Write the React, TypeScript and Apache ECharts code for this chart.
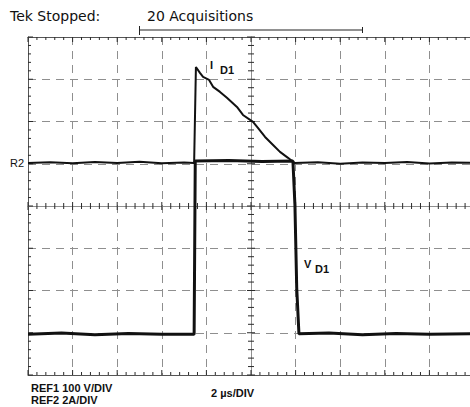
import { useEffect, useRef } from "react";
import * as echarts from "echarts";

// Screen scaling (oscilloscope settings)
const US_PER_DIV = 2;
const V_PER_DIV = 100;
const A_PER_DIV = 2;
const H_DIVS = 10;
const V_DIVS = 8;
const SUB_DIVS = 5;
// Ground reference of each channel, in divisions above screen centre
const V_REF_DIV = 1.065;
const I_REF_DIV = 1.02;

// REF1: diode voltage V_D1 (µs, V)
const voltageTime = [0, 1.5, 3, 4.5, 6, 7.45, 7.5, 9, 10.5, 11.88, 11.97, 12.05, 12.15, 13.5, 15, 16.5, 18, 20];
const voltageVolts = [-410, -407, -411, -408, -410, -410, 0, 1, -1, 0, -104, -300, -409, -407, -411, -408, -410, -409];

// REF2: diode current I_D1 (µs, A)
const currentTime = [
  0, 1, 2, 3, 4, 5, 6, 7, 7.45, 7.53, 7.71, 7.85, 8.12, 8.3, 8.61, 8.92, 9.37, 9.64, 10.09, 10.31, 10.63,
  10.99, 11.3, 11.66, 11.84, 11.95, 13, 14, 15, 16, 17, 18, 19, 20,
];
const currentAmps = [
  0, 0.03, -0.02, 0.04, 0, 0.05, -0.02, 0.02, 0, 4.54, 4.26, 4.07, 3.93, 3.6, 3.36, 3.08, 2.65, 2.27, 1.94,
  1.66, 1.23, 0.85, 0.52, 0.24, 0.09, 0, 0.03, -0.04, 0.02, 0, 0.04, -0.03, 0.02, 0,
];

// Record window bracket above the screen (µs)
const recordWindow = [5, 15];

const TRACE = "#111111";
const GRID = "#8f8f8f";
const BORDER = "#555555";
const TICK = "#2a2a2a";

const pair = (xs: number[], ys: number[]) => xs.map((x, i) => [x, ys[i]]);

// Graticule rulers: minor marks every 1/5 division along the edges and the centre cross
type Side = "up" | "down" | "right" | "both-h" | "both-v";
function ruler(horizontal: boolean, at: number, side: Side) {
  const half = (horizontal ? H_DIVS : V_DIVS) / 2;
  const items: any[] = [];
  for (let i = -half * SUB_DIVS; i <= half * SUB_DIVS; i++) {
    const pos = i / SUB_DIVS;
    const len = i % SUB_DIVS === 0 ? 5 : 3;
    const value = horizontal ? [pos, at] : [at, pos];
    let symbolSize: number[];
    let symbolOffset: number[];
    if (side === "up") { symbolSize = [1, len]; symbolOffset = [0, -len / 2]; }
    else if (side === "down") { symbolSize = [1, len]; symbolOffset = [0, len / 2]; }
    else if (side === "right") { symbolSize = [len, 1]; symbolOffset = [len / 2, 0]; }
    else if (side === "both-h") { symbolSize = [1, len + 3]; symbolOffset = [0, 0]; }
    else { symbolSize = [len + 3, 1]; symbolOffset = [0, 0]; }
    items.push({ value, symbolSize, symbolOffset });
  }
  return {
    type: "scatter",
    xAxisIndex: 1,
    yAxisIndex: 0,
    symbol: "rect",
    data: items,
    itemStyle: { color: TICK, opacity: 1 },
    silent: true,
    clip: false,
    z: 1,
  };
}

export default function App() {
  const ref = useRef<HTMLDivElement>(null);

  useEffect(() => {
    if (!ref.current) return;
    const chart = echarts.init(ref.current, null, { renderer: "svg" });

    const divAxis = (extra: any) => ({
      type: "value",
      min: -H_DIVS / 2,
      max: H_DIVS / 2,
      interval: 1,
      axisLabel: { show: false },
      splitLine: { show: false },
      axisLine: { show: true, onZero: false, lineStyle: { color: BORDER, width: 1 } },
      axisTick: { show: false },
      minorTick: { show: false },
      ...extra,
    });
    const divAxisY = (extra: any) => divAxis({ min: -V_DIVS / 2, max: V_DIVS / 2, ...extra });
    const dashed = { show: true, lineStyle: { color: GRID, width: 1, type: [8, 6] } };
    const centreLine = { color: GRID, width: 1 };

    chart.setOption({
      animation: false,
      backgroundColor: "#ffffff",
      grid: { left: 28, right: -4, top: 37, bottom: 32, outerBoundsMode: "none", containLabel: false },
      xAxis: [
        { type: "value", min: 0, max: H_DIVS * US_PER_DIV, show: false },
        divAxis({ position: "bottom", splitLine: dashed }),
        divAxis({ position: "top" }),
        divAxis({
          position: "bottom",
          axisLine: { show: true, onZero: true, onZeroAxisIndex: 0, lineStyle: centreLine },
        }),
      ],
      yAxis: [
        divAxisY({ position: "left", splitLine: dashed }),
        {
          type: "value",
          show: false,
          min: (-V_DIVS / 2 - V_REF_DIV) * V_PER_DIV,
          max: (V_DIVS / 2 - V_REF_DIV) * V_PER_DIV,
        },
        {
          type: "value",
          show: false,
          min: (-V_DIVS / 2 - I_REF_DIV) * A_PER_DIV,
          max: (V_DIVS / 2 - I_REF_DIV) * A_PER_DIV,
        },
        divAxisY({
          position: "left",
          axisLine: { show: true, onZero: true, onZeroAxisIndex: 1, lineStyle: centreLine },
        }),
      ],
      series: [
        ruler(true, -V_DIVS / 2, "up"),
        ruler(true, V_DIVS / 2, "down"),
        ruler(true, 0, "both-h"),
        ruler(false, -H_DIVS / 2, "right"),
        ruler(false, 0, "both-v"),
        {
          name: "V_D1",
          type: "line",
          xAxisIndex: 0,
          yAxisIndex: 1,
          data: pair(voltageTime, voltageVolts),
          showSymbol: false,
          lineStyle: { color: TRACE, width: 3 },
          z: 5,
        },
        {
          name: "I_D1",
          type: "line",
          xAxisIndex: 0,
          yAxisIndex: 2,
          data: pair(currentTime, currentAmps),
          showSymbol: false,
          lineStyle: { color: TRACE, width: 2 },
          z: 6,
        },
      ],
    });

    const bx0 = chart.convertToPixel({ xAxisIndex: 0 }, recordWindow[0]) as number;
    const bx1 = chart.convertToPixel({ xAxisIndex: 0 }, recordWindow[1]) as number;
    const by = 30;

    const txt = (text: string, x: number, y: number, font: string) => ({
      type: "text",
      x,
      y,
      style: { text, font, fill: "#111111", verticalAlign: "middle", align: "left" },
      z: 10,
    });
    const header = '14px "DejaVu Sans"';
    const small = 'bold 11px "Liberation Sans"';
    const tag = 'bold 11px "Liberation Sans"';

    chart.setOption({
      graphic: [
        txt("Tek Stopped:", 10, 16, header),
        txt("20 Acquisitions", 147, 16, header),
        {
          type: "polyline",
          shape: { points: [[bx0, by - 4], [bx0, by], [bx1, by], [bx1, by - 3]] },
          style: { stroke: "#222222", lineWidth: 1, fill: null },
        },
        {
          type: "line",
          shape: { x1: bx0, y1: by, x2: bx0, y2: by + 5 },
          style: { stroke: "#222222", lineWidth: 1 },
        },
        {
          type: "line",
          shape: { x1: bx1, y1: by, x2: bx1, y2: by + 3 },
          style: { stroke: "#222222", lineWidth: 1 },
        },
        txt("R2", 10, 163, '11px "Liberation Sans"'),
        txt("I", 210, 65, tag),
        txt("D1", 220, 70, tag),
        txt("V", 304, 264, tag),
        txt("D1", 315, 269, tag),
        txt("REF1 100 V/DIV", 31, 388, small),
        txt("REF2 2A/DIV", 31, 400, small),
        txt("2 \u00b5s/DIV", 211, 393, small),
      ],
    });

    return () => chart.dispose();
  }, []);

  return (
    <div
      ref={ref}
      style={{ position: "fixed", left: 0, top: 0, width: 470, height: 407, background: "#fff" }}
    />
  );
}
